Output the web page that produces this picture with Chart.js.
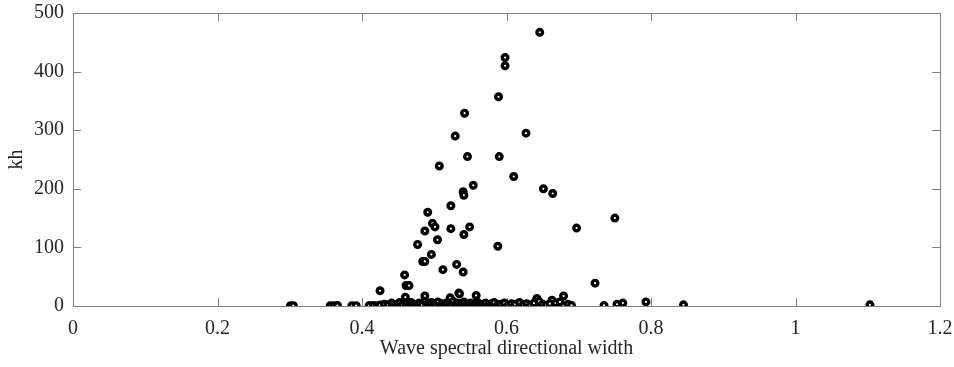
<!DOCTYPE html>
<html>
<head>
<meta charset="utf-8">
<script src="https://cdn.jsdelivr.net/npm/chart.js@4/dist/chart.umd.min.js"></script>
<style>
  html, body { margin: 0; padding: 0; background: #ffffff; }
</style>
</head>
<body>
<canvas id="chart" width="954" height="367"></canvas>
<script>
// axis ticks
const xTicks = [0, 0.2, 0.4, 0.6, 0.8, 1, 1.2];
const yTicks = [0, 100, 200, 300, 400, 500];

// upper points
const peakWidth = [0.646, 0.598, 0.598, 0.589, 0.542, 0.529, 0.627, 0.546, 0.590, 0.507,
  0.610, 0.554, 0.540, 0.541, 0.651, 0.664, 0.523, 0.491, 0.750, 0.4975,
  0.501, 0.487, 0.523, 0.549, 0.541, 0.697, 0.5045, 0.477, 0.588, 0.496,
  0.484, 0.487, 0.531, 0.512, 0.540, 0.459, 0.461, 0.465, 0.460, 0.7226,
  0.487, 0.534, 0.558, 0.425, 0.535, 0.522, 0.679, 0.642, 0.663, 0.793,
  0.753, 0.761, 0.735, 0.845, 1.103];
const peakKh = [467, 424, 410, 357, 329, 290, 295, 255, 255, 239,
  221, 206, 195, 189, 200, 192, 171, 160, 150, 141,
  135, 128, 132, 135, 122, 133, 113, 105, 102, 88,
  76, 76, 71, 62, 58, 53, 35, 35, 15, 39,
  17, 22, 18, 26, 21, 14, 17, 13, 10, 7,
  3, 5, 1, 2, 2];

// low points hugging the x axis
const baseWidth = [0.301, 0.305, 0.356, 0.361, 0.366, 0.386, 0.392, 0.410, 0.416, 0.421,
  0.425, 0.431, 0.436, 0.441, 0.445, 0.449, 0.452, 0.456, 0.461, 0.465,
  0.468, 0.472, 0.476, 0.479, 0.483, 0.487, 0.490, 0.493, 0.496, 0.499,
  0.502, 0.505, 0.508, 0.511, 0.514, 0.517, 0.520, 0.523, 0.526, 0.529,
  0.532, 0.535, 0.538, 0.541, 0.544, 0.547, 0.550, 0.553, 0.556, 0.560,
  0.563, 0.567, 0.571, 0.575, 0.579, 0.583, 0.588, 0.592, 0.597, 0.602,
  0.607, 0.612, 0.618, 0.623, 0.628, 0.633, 0.638, 0.645, 0.650, 0.655,
  0.660, 0.668, 0.674, 0.685, 0.690];
const baseKh = [0.5, 0.5, 0.5, 0.5, 0.8, 0.5, 0.5, 0.8, 1, 0.5,
  1.5, 3, 2, 5, 1, 3, 6, 2, 4, 1,
  6, 3, 1, 5, 2, 8, 3, 1, 6, 4,
  2, 7, 1, 4, 2, 5, 1, 3, 8, 2,
  5, 1, 4, 7, 2, 3, 5, 1, 4, 6,
  2, 3, 5, 1, 4, 6, 2, 3, 5, 1,
  4, 3, 6, 2, 4, 1, 5, 8, 3, 1,
  4, 5, 7, 3, 1];

const points = peakWidth.map((x, i) => ({ x, y: peakKh[i] }))
  .concat(baseWidth.map((x, i) => ({ x, y: baseKh[i] })));

const serif = "'Liberation Serif', 'Times New Roman', serif";
const textColor = "#262626";

// MATLAB-style box with inward ticks on all four sides
const boxPlugin = {
  id: "matlabBox",
  beforeDatasetsDraw(chart) {
    const { ctx, chartArea: a, scales } = chart;
    const len = 8;
    ctx.save();
    ctx.strokeStyle = "#808080";
    ctx.lineWidth = 1;
    ctx.strokeRect(Math.round(a.left) + 0.5, Math.round(a.top) + 0.5,
      Math.round(a.right - a.left), Math.round(a.bottom - a.top));
    ctx.beginPath();
    xTicks.forEach((v) => {
      const px = Math.round(scales.x.getPixelForValue(v)) + 0.5;
      ctx.moveTo(px, a.bottom); ctx.lineTo(px, a.bottom - len);
      ctx.moveTo(px, a.top); ctx.lineTo(px, a.top + len);
    });
    yTicks.forEach((v) => {
      const py = Math.round(scales.y.getPixelForValue(v)) + 0.5;
      ctx.moveTo(a.left, py); ctx.lineTo(a.left + len, py);
      ctx.moveTo(a.right, py); ctx.lineTo(a.right - len, py);
    });
    ctx.stroke();
    ctx.restore();
  },
};

new Chart(document.getElementById("chart"), {
  type: "scatter",
  data: {
    datasets: [{
      data: points,
      pointStyle: "circle",
      pointRadius: 2.8,
      pointHoverRadius: 2.8,
      borderWidth: 3.4,
      borderColor: "#000000",
      backgroundColor: "#ffffff",
    }],
  },
  options: {
    responsive: false,
    animation: false,
    devicePixelRatio: 1,
    layout: { padding: { top: 13, right: 14, left: 0, bottom: 0 } },
    plugins: { legend: { display: false }, tooltip: { enabled: false } },
    scales: {
      x: {
        type: "linear",
        min: 0,
        max: 1.2,
        grid: { display: false, drawTicks: false },
        border: { display: false },
        afterBuildTicks: (s) => { s.ticks = xTicks.map((v) => ({ value: v })); },
        afterFit: (s) => { s.height = 61; s.paddingLeft = 0; s.paddingRight = 0; },
        ticks: {
          padding: 11,
          color: textColor,
          font: { family: serif, size: 20 },
          maxRotation: 0,
          callback: (v) => String(v),
        },
        title: {
          display: true,
          text: "Wave spectral directional width",
          color: textColor,
          font: { family: serif, size: 20 },
          padding: { top: 6, bottom: 6 },
        },
      },
      y: {
        type: "linear",
        min: 0,
        max: 500,
        grid: { display: false, drawTicks: false },
        border: { display: false },
        afterBuildTicks: (s) => { s.ticks = yTicks.map((v) => ({ value: v })); },
        afterFit: (s) => { s.width = 73; s.paddingTop = 0; s.paddingBottom = 0; },
        ticks: {
          padding: 9,
          color: textColor,
          font: { family: serif, size: 20 },
          callback: (v) => String(v),
        },
        title: {
          display: true,
          text: "kh",
          color: textColor,
          font: { family: serif, size: 20 },
          padding: { top: 5, bottom: 5 },
        },
      },
    },
  },
  plugins: [boxPlugin],
});
</script>
</body>
</html>
